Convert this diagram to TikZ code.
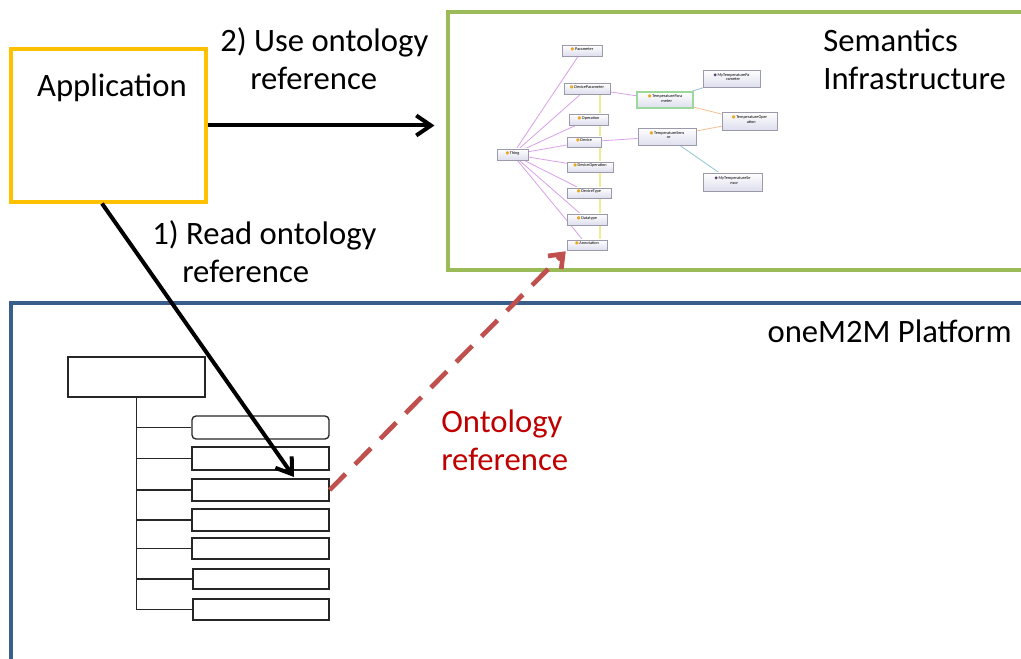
\documentclass[tikz,border=0pt]{standalone}
\usepackage{fontspec}
\setmainfont{Carlito}
\newfontfamily\djv{DejaVu Sans}
\usetikzlibrary{arrows.meta,calc,fit,backgrounds}
\definecolor{appor}{HTML}{FFC000}
\definecolor{semgr}{HTML}{9BBB59}
\definecolor{platbl}{HTML}{3A5E8C}
\definecolor{dashred}{HTML}{C0504D}
\definecolor{txtred}{HTML}{C00000}
\definecolor{ovio}{HTML}{D9A0EA}
\definecolor{oyel}{HTML}{F0EC90}
\definecolor{oora}{HTML}{F5C090}
\definecolor{oblu}{HTML}{A0BEE2}
\definecolor{oteal}{HTML}{90C8D2}
\definecolor{oborder}{HTML}{9A9AAA}
\definecolor{ogreen}{HTML}{9CD79C}
\definecolor{odotc}{HTML}{E8A820}
\definecolor{odia}{HTML}{50306A}
\newcommand\onodot{{\djv\textcolor{odotc}{●}}\,}
\newcommand\onodia{{\djv\textcolor{odia}{◆}}\,}
\tikzset{
  bigtxt/.style={font=\fontsize{24.5}{28.5}\selectfont, inner sep=0pt, align=left},
  frame/.style={line width=2.3pt},
  arr/.style={line width=3pt, -{Straight Barb[length=11pt,width=15pt,line width=3pt]}},
  treebox/.style={draw=black!85, line width=1pt, fill=white, inner sep=0pt},
  treeline/.style={draw=black!85, line width=1pt},
  onode/.style={draw=oborder, line width=0.5pt, top color=white, bottom color={rgb,255:red,222;green,222;blue,238}, inner sep=0pt, align=left, font=\fontsize{3.2}{3.7}\selectfont},
  oedge/.style={line width=0.6pt},
}
\begin{document}
\begin{tikzpicture}[x=0.75pt,y=-0.75pt]
\useasboundingbox (0,0) rectangle (1021,659);

% big frames
\node[fit={(448,12) (1040,270)}, inner sep=0pt, draw=semgr, frame] (sem) {};
\node[fit={(11,303) (1040,680)}, inner sep=0pt, draw=platbl, frame] (plat) {};
\node[fit={(11,49) (206,202)}, inner sep=0pt, draw=appor, frame] (app) {};

% texts
\node[bigtxt, anchor=base] (apptxt) at (112,97) {Application};
\node[bigtxt, anchor=base west] (lbl2) at (220,90) {2) Use ontology\\\hspace*{22.5pt}reference};
\node[bigtxt, anchor=base west] (lbl1) at (152,283) {1) Read ontology\\\hspace*{22.5pt}reference};
\node[bigtxt, anchor=base west] (semtxt) at (823,90) {Semantics\\Infrastructure};
\node[bigtxt, anchor=base east] (plattxt) at (1012,343) {oneM2M Platform};
\node[bigtxt, anchor=base west, text=txtred] (ontotxt) at (441,470) {Ontology\\reference};

% ontology graph
\node[onode, fit={(562,45) (602,56)}] (opar) {\onodot Parameter};
\node[onode, fit={(564,83) (610,94)}] (odpar) {\onodot DeviceParameter};
\node[onode, fit={(569,114) (608,125)}] (oop) {\onodot Operation};
\node[onode, fit={(567,137) (601,147)}] (odev) {\onodot Device};
\node[onode, fit={(497,149) (528,160)}] (othing) {\onodot Thing};
\node[onode, fit={(567,162) (613,172)}] (odop) {\onodot DeviceOperation};
\node[onode, fit={(567,188) (611,198)}] (odt) {\onodot DeviceType};
\node[onode, fit={(567,214) (607,225)}] (odata) {\onodot Datatype};
\node[onode, fit={(567,240) (607,250)}] (oanno) {\onodot Annotation};
\node[onode, draw=ogreen, line width=0.8pt, fit={(637,92) (693,108)}] (otpar) {\onodot TemperaturePara\\\hspace*{2.6pt}meter};
\node[onode, fit={(703,70) (760,87)}] (omytp) {\onodia MyTemperaturePa\\\hspace*{2.6pt}rameter};
\node[onode, fit={(722,112) (777,130)}] (otop) {\onodot TemperatureOper\\\hspace*{2.6pt}ation};
\node[onode, fit={(638,128) (696,145)}] (otsen) {\onodot TemperatureSens\\\hspace*{2.6pt}or};
\node[onode, fit={(703,173) (762,191)}] (omyts) {\onodia MyTemperatureSe\\\hspace*{2.6pt}nsor};

\begin{scope}[on background layer]
  \fill[white] (0,0) rectangle (1021,659);
  \draw[oedge, oyel, line width=0.8pt] ([xshift=9.75pt]odpar.south) -- ([xshift=9.75pt]oanno.north);
  \foreach \t in {opar,odpar,oop,odev,odop,odt,odata,oanno}
    \draw[oedge, ovio] (othing) -- (\t);
  \draw[oedge, ovio] (odpar) -- (otpar);
  \draw[oedge, ovio] (odev) -- (otsen);
  \draw[oedge, oblu] (otpar) -- (omytp);
  \draw[oedge, oteal] (otsen) -- (omyts);
  \draw[oedge, oora] (otpar) -- (otop);
  \draw[oedge, oora] (otsen) -- (otop);
\end{scope}

% tree
\node[treebox, fit={(68,357) (205,397)}] (root) {};
\node[treebox, rounded corners=3pt, fit={(192,416) (329,439)}] (c1) {};
\node[treebox, fit={(192,447) (329,470)}] (c2) {};
\node[treebox, fit={(192,479) (329,501)}] (c3) {};
\node[treebox, fit={(192,509) (329,531)}] (c4) {};
\node[treebox, fit={(192,538) (329,559)}] (c5) {};
\node[treebox, fit={(193,569) (329,589)}] (c6) {};
\node[treebox, fit={(193,599) (329,620)}] (c7) {};
\draw[treeline] (root.south) |- (c7.west);
\foreach \c in {c1,c2,c3,c4,c5,c6}
  \draw[treeline] (root.south |- \c.west) -- (\c.west);

% connectors
\coordinate (a1end) at (294,477);
\draw[arr] ($(app.south)+(-6.5,0)$) -- (a1end);
\draw[arr, shorten >=9pt] (app.east) -- (app.east -| sem.west);
\draw[dashred, line width=3.5pt, dash pattern=on 17pt off 10pt,
  -{Straight Barb[length=9pt,width=14pt,line width=3.5pt]}, shorten >=1pt] (c3.east) -- (oanno.south west);
\end{tikzpicture}
\end{document}
